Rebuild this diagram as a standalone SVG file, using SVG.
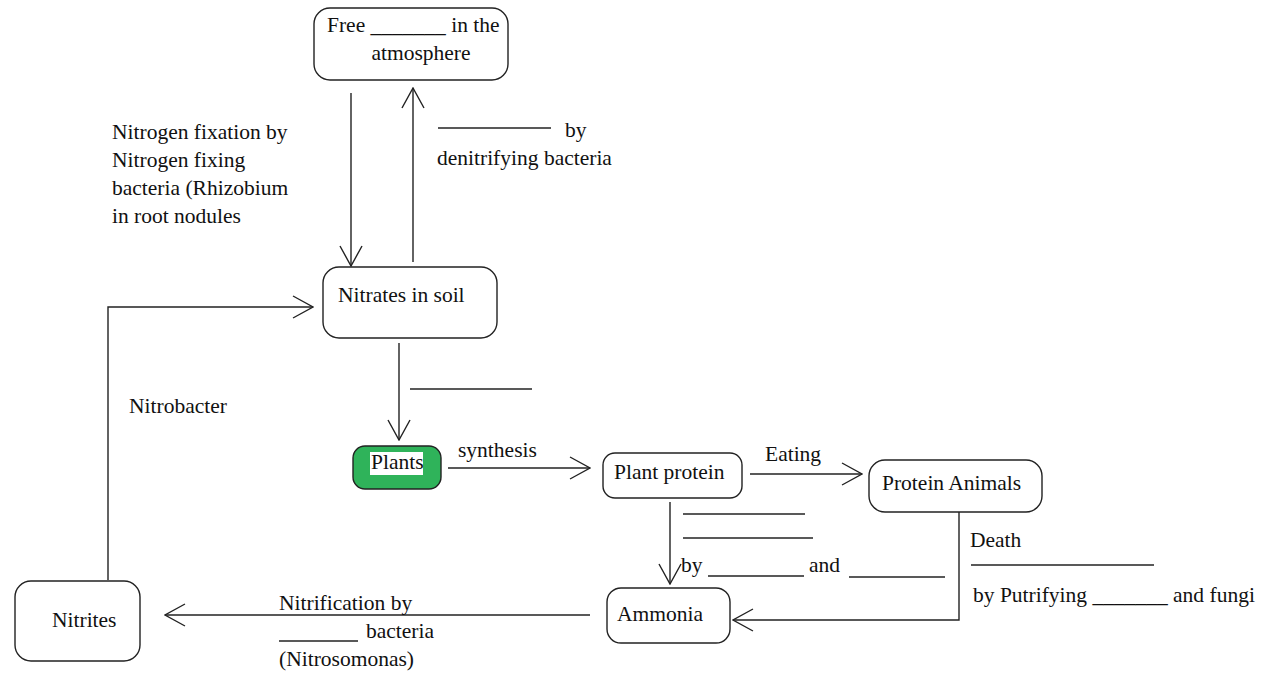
<svg xmlns="http://www.w3.org/2000/svg" width="1261" height="679" viewBox="0 0 1261 679">
<style>
  .box { fill: #ffffff; stroke: #222222; stroke-width: 1.4; }
  .green { fill: #2fb35a; stroke: #222222; stroke-width: 1.4; }
  .ln { fill: none; stroke: #222222; stroke-width: 1.4; }
  .blank { fill: none; stroke: #222222; stroke-width: 1.4; }
  text { font-family: "Liberation Serif", "DejaVu Serif", serif; font-size: 21.5px; fill: #111111; }
</style>
<defs>
  <marker id="arr" viewBox="0 0 22 24" refX="21" refY="12" markerWidth="22" markerHeight="24" markerUnits="userSpaceOnUse" orient="auto">
    <path d="M1,1 L21,12 L1,23" fill="none" stroke="#222222" stroke-width="1.4"/>
  </marker>
</defs>
<rect width="1261" height="679" fill="#ffffff"/>

<g id="connectors">
  <line class="ln" x1="351" y1="93" x2="351" y2="266" marker-end="url(#arr)"/>
  <line class="ln" x1="413" y1="262" x2="413" y2="88" marker-end="url(#arr)"/>
  <polyline class="ln" points="108,580 108,307 313,307" marker-end="url(#arr)"/>
  <line class="ln" x1="399" y1="343" x2="399" y2="440" marker-end="url(#arr)"/>
  <line class="ln" x1="448" y1="468" x2="590" y2="468" marker-end="url(#arr)"/>
  <line class="ln" x1="750" y1="474" x2="862" y2="474" marker-end="url(#arr)"/>
  <line class="ln" x1="670" y1="502" x2="670" y2="584" marker-end="url(#arr)"/>
  <polyline class="ln" points="959,512 959,620 733,620" marker-end="url(#arr)"/>
  <line class="ln" x1="590" y1="615" x2="165" y2="615" marker-end="url(#arr)"/>
</g>

<g id="labels">
  <line class="blank" x1="438" y1="128" x2="551" y2="128"/>
  <text x="565" y="137">by</text>
  <text x="437" y="165">denitrifying bacteria</text>
  <text x="112" y="139">Nitrogen fixation by</text>
  <text x="112" y="167">Nitrogen fixing</text>
  <text x="112" y="195">bacteria (Rhizobium</text>
  <text x="112" y="223">in root nodules</text>
  <text x="129" y="413">Nitrobacter</text>
  <line class="blank" x1="410" y1="389" x2="532" y2="389"/>
  <text x="458" y="457">synthesis</text>
  <text x="765" y="461">Eating</text>
  <line class="blank" x1="683" y1="514" x2="805" y2="514"/>
  <line class="blank" x1="683" y1="538" x2="813" y2="538"/>
  <text x="681" y="572">by</text>
  <line class="blank" x1="708" y1="576" x2="804" y2="576"/>
  <text x="809" y="572">and</text>
  <line class="blank" x1="849" y1="577" x2="945" y2="577"/>
  <text x="970" y="547">Death</text>
  <line class="blank" x1="971" y1="565" x2="1154" y2="565"/>
  <text x="973" y="602">by Putrifying _______ and fungi</text>
  <text x="279" y="610">Nitrification by</text>
  <line class="blank" x1="279" y1="641" x2="358" y2="641"/>
  <text x="366" y="638">bacteria</text>
  <text x="279" y="666">(Nitrosomonas)</text>
</g>

<g id="node-free">
  <rect class="box" x="314" y="8" width="194" height="72" rx="16" ry="16"/>
  <text x="327" y="32">Free _______ in the</text>
  <text x="421" y="60" text-anchor="middle">atmosphere</text>
</g>

<g id="node-nitrates">
  <rect class="box" x="323" y="267" width="174" height="71" rx="16" ry="16"/>
  <text x="338" y="302">Nitrates in soil</text>
</g>

<g id="node-plants">
  <rect class="green" x="353" y="446" width="88" height="43" rx="12" ry="12"/>
  <rect x="370" y="452" width="53" height="23" fill="#ffffff"/>
  <text x="371" y="469">Plants</text>
</g>

<g id="node-plant-protein">
  <rect class="box" x="603" y="453" width="139" height="45" rx="12" ry="12"/>
  <text x="614" y="479">Plant protein</text>
</g>

<g id="node-protein-animals">
  <rect class="box" x="869" y="460" width="173" height="52" rx="16" ry="16"/>
  <text x="882" y="490">Protein Animals</text>
</g>

<g id="node-ammonia">
  <rect class="box" x="607" y="588" width="123" height="55" rx="14" ry="14"/>
  <text x="617" y="621">Ammonia</text>
</g>

<g id="node-nitrites">
  <rect class="box" x="15" y="581" width="125" height="80" rx="16" ry="16"/>
  <text x="52" y="627">Nitrites</text>
</g>
</svg>
